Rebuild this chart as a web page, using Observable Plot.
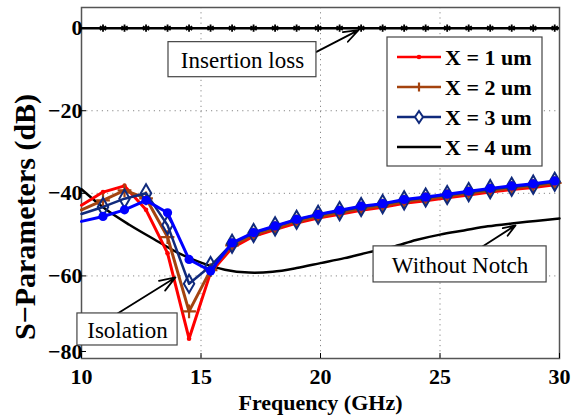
<!DOCTYPE html>
<html><head><meta charset="utf-8">
<script src="https://cdn.jsdelivr.net/npm/d3@7"></script>
<script src="https://cdn.jsdelivr.net/npm/@observablehq/plot@0.6"></script>
<style>body{margin:0;background:#fff} svg{display:block}</style>
</head><body><div id="chart"></div><script>
// Frequency samples (GHz)
const freq = [10, 10.9, 11.8, 12.7, 13.6, 14.5, 15.4, 16.3, 17.2, 18.1, 19.0, 19.9, 20.8, 21.7, 22.6, 23.5, 24.4, 25.3, 26.2, 27.1, 28.0, 28.9, 29.8];
// Isolation curves (dB)
const x1um = [-42.9, -39.7, -38.2, -44.0, -54.5, -75.2, -59.2, -53.2, -50.4, -48.8, -47.2, -46.0, -45.1, -44.1, -43.4, -42.4, -41.8, -41.1, -40.4, -39.7, -39.1, -38.6, -37.9];
const x2um = [-44.0, -41.7, -39.3, -41.2, -50.6, -68.6, -58.6, -52.6, -50.0, -48.4, -46.8, -45.6, -44.7, -43.7, -43.0, -42.0, -41.4, -40.7, -40.0, -39.3, -38.7, -38.2, -37.5];
const x3um = [-45.0, -43.3, -41.3, -40.0, -47.7, -61.9, -57.6, -52.2, -49.6, -48.0, -46.4, -45.2, -44.3, -43.3, -42.6, -41.7, -41.0, -40.4, -39.7, -39.0, -38.4, -37.9, -37.2];
const xBlue = [-46.8, -45.6, -44.0, -41.7, -44.7, -56.0, -58.8, -52.0, -49.5, -47.9, -46.3, -45.1, -44.1, -43.1, -42.5, -41.5, -40.9, -40.2, -39.5, -38.8, -38.2, -37.7, -37.0];
// Without-notch curve
const freqWN = [10, 11, 12, 13, 14, 15, 16, 17, 18, 19, 20, 21, 22, 23, 24, 25, 26, 27, 28, 29, 30];
const withoutNotch = [-39.0, -43.8, -47.6, -51.0, -54.3, -56.8, -58.5, -59.2, -59.0, -58.1, -56.9, -55.7, -54.3, -53.0, -51.3, -50.0, -49.0, -48.0, -47.3, -46.7, -46.1];
// Insertion loss (dB)
const insertion = freq.map(() => 0);
const xTicks = [10, 15, 20, 25, 30];
const yTicks = [0, -20, -40, -60];
const yTickBottom = [-80];
const legendLabels = ["X = 1 um", "X = 2 um", "X = 3 um", "X = 4 um"];

// Annotations (data units)
const annotations = [
  {label: "Insertion loss", x1: 13.64, x2: 19.83, y1: -3.39, y2: -11.88, ax1: 19.83, ay1: -5.75, ax2: 21.59, ay2: -0.48},
  {label: "Isolation", x1: 9.83, x2: 14.02, y1: -69.09, y2: -76.85, ax1: 11.51, ay1: -69.09, ax2: 13.93, ay2: -60.36},
  {label: "Without Notch", x1: 22.22, x2: 29.46, y1: -52.85, y2: -61.58, ax1: 26.78, ay1: -52.85, ax2: 28.16, ay2: -47.76}
];

// pick an installed serif font
function pickFont(cands) {
  const c = document.createElement("canvas").getContext("2d");
  const s = "Insertion loss Frequency 0123456789 WMwm";
  const w = (f) => { c.font = "40px " + f; return c.measureText(s).width; };
  const mono = w("monospace");
  for (const f of cands) {
    const a = w(`'${f}', monospace`), b = w(`'${f}', sans-serif`);
    if (a === b && a !== mono) return `'${f}'`;
  }
  return "serif";
}
const serifName = pickFont(["Liberation Serif", "Times New Roman", "Tinos", "Nimbus Roman", "DejaVu Serif", "Noto Serif", "FreeSerif"]);
const serif = serifName + ", serif";

const rows = (vals) => freq.map((f, i) => ({f, v: vals[i]}));
const mk = (vals) => rows(vals).filter(d => d.f > 10);
const wn = freqWN.map((f, i) => ({f, v: withoutNotch[i]}));
const ins = freq.map((f, i) => ({f, v: insertion[i]})).filter(d => d.f > 10);

const RED = "#ff0000", BROWN = "#a4430f", NAVY = "#102a7c", BLUE = "#0000ff";
const fmt = d3.format("d");

const plot = Plot.plot({
  width: 571, height: 418,
  marginLeft: 81, marginRight: 12, marginTop: 7, marginBottom: 60,
  style: {fontFamily: serif, background: "#fff", overflow: "visible"},
  x: {domain: [10, 30]},
  y: {domain: [-80, 5]},
  marks: [
    Plot.gridX([15, 20, 25], {stroke: "#888", strokeOpacity: 1, strokeDasharray: "1.2,4", strokeWidth: 1}),
    Plot.gridY([0, -20, -40, -60], {stroke: "#888", strokeOpacity: 1, strokeDasharray: "1.2,4", strokeWidth: 1}),
    Plot.frame({stroke: "#555", strokeWidth: 1.5}),
    Plot.axisX(xTicks, {tickSize: -5, tickFormat: fmt, tickPadding: 15, fontSize: 22, fontWeight: "bold", label: null, fill: "#000", fontFamily: serif}),
    Plot.axisY(yTicks, {tickSize: -5, tickFormat: fmt, tickPadding: 4, fontSize: 22, fontWeight: "bold", label: null, fill: "#000", fontFamily: serif}),
    Plot.axisY(yTickBottom, {tickSize: -5, tickFormat: fmt, tickPadding: 4, fontSize: 22, fontWeight: "bold", label: null, fill: "#000", fontFamily: serif, dy: -7}),
    // insertion loss
    Plot.ruleY([0], {stroke: "#000", strokeWidth: 2.5}),
    Plot.dot(ins, {x: "f", y: "v", symbol: "asterisk", r: 3.4, stroke: "#000", strokeWidth: 1.8}),
    // without notch
    Plot.line(wn, {x: "f", y: "v", stroke: "#000", strokeWidth: 2.5, curve: "catmull-rom"}),
    Plot.line(rows(x1um), {x: "f", y: "v", stroke: RED, strokeWidth: 3}),
    Plot.dot(mk(x1um), {x: "f", y: "v", r: 2.3, fill: RED}),
    Plot.line(rows(x2um), {x: "f", y: "v", stroke: BROWN, strokeWidth: 3}),
    Plot.dot(mk(x2um), {x: "f", y: "v", symbol: "plus", r: 4.5, stroke: BROWN, strokeWidth: 2.2}),
    Plot.line(rows(x3um), {x: "f", y: "v", stroke: NAVY, strokeWidth: 2.5}),
    Plot.dot(mk(x3um), {x: "f", y: "v", symbol: "diamond", r: 5.5, stroke: NAVY, strokeWidth: 2, fill: "none"}),
    Plot.line(rows(xBlue), {x: "f", y: "v", stroke: BLUE, strokeWidth: 3}),
    Plot.dot(mk(xBlue), {x: "f", y: "v", r: 4.6, fill: BLUE}),
    // annotations
    Plot.arrow(annotations, {x1: "ax1", y1: "ay1", x2: "ax2", y2: "ay2", stroke: "#000", strokeWidth: 1.8, headLength: 14, headAngle: 40}),
    Plot.rect(annotations, {x1: "x1", x2: "x2", y1: "y1", y2: "y2", fill: "#fff", stroke: "#444", strokeWidth: 1.2}),
    Plot.text(annotations, {x: d => (d.x1 + d.x2) / 2, y: d => (d.y1 + d.y2) / 2, text: "label", fontSize: 23, fill: "#000", dy: 1, fontFamily: serif}),
    // axis labels
    Plot.text(["Frequency (GHz)"], {frameAnchor: "bottom", lineAnchor: "middle", textAnchor: "middle", dy: 44, text: d => d, fontSize: 22, fontWeight: "bold", fill: "#000", fontFamily: serif}),
    Plot.text(["S\u2212Parameters (dB)"], {frameAnchor: "left", lineAnchor: "middle", textAnchor: "middle", dx: -56, dy: 34, rotate: -90, text: d => d, fontSize: 30, fontWeight: "bold", fill: "#000", fontFamily: serif})
  ]
});

// Legend
const svg = d3.select(plot);
const lg = svg.append("g").attr("text-anchor", "start").attr("font-family", serif);
lg.append("rect").attr("x", 387).attr("y", 37).attr("width", 155).attr("height", 129)
  .attr("fill", "#fff").attr("stroke", "#444").attr("stroke-width", 1.2);
const lcol = [RED, BROWN, NAVY, "#000"];
legendLabels.forEach((lab, i) => {
  const y = 57 + i * 30;
  lg.append("line").attr("x1", 397).attr("x2", 441).attr("y1", y).attr("y2", y)
    .attr("stroke", lcol[i]).attr("stroke-width", 2.5);
  if (i === 0) lg.append("circle").attr("cx", 419).attr("cy", y).attr("r", 2.3).attr("fill", RED);
  if (i === 1) lg.append("path").attr("d", `M${419 - 4.5},${y}h9M419,${y - 4.5}v9`).attr("stroke", BROWN).attr("stroke-width", 2.2);
  if (i === 2) lg.append("path").attr("d", `M419,${y - 6}l4,6l-4,6l-4,-6z`).attr("stroke", NAVY).attr("stroke-width", 2).attr("fill", "#fff");
  lg.append("text").attr("x", 445).attr("y", y).attr("dy", "0.35em").attr("font-size", 22)
    .attr("font-weight", "bold").attr("fill", "#000").attr("text-anchor", "start").text(lab);
});

document.getElementById("chart").append(plot);
</script></body></html>
